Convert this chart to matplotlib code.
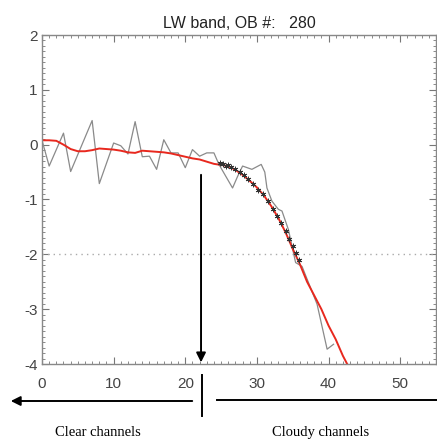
import numpy as np
import matplotlib
matplotlib.use("Agg")
import matplotlib.pyplot as plt
from matplotlib.patches import FancyArrowPatch
from matplotlib.ticker import MultipleLocator

plt.rcParams["font.family"] = "Liberation Sans"
plt.rcParams["axes.unicode_minus"] = False

# noisy observed residuals (gray line)
obs_x = [0, 1, 3, 4, 7, 8, 10, 11, 12, 13, 14, 15, 16, 17, 18, 19, 20, 21, 22, 23,
         24, 24.7, 26.6, 27.3, 28, 29.3, 30.6, 31.1, 31.4, 32.1, 33, 33.5, 34.4,
         35.4, 36.3, 38.4, 39.8, 40.7]
obs_y = [0.08, -0.39, 0.21, -0.49, 0.44, -0.71, 0.03, -0.02, -0.17, 0.42, -0.22,
         -0.21, -0.45, 0.09, -0.15, -0.15, -0.42, -0.09, -0.21, -0.15, -0.15, -0.36,
         -0.79, -0.58, -0.39, -0.45, -0.36, -0.5, -0.79, -1.03, -1.18, -1.21, -1.55,
         -2.15, -2.22, -2.91, -3.73, -3.64]

# smoothed fit (red line)
fit_x = [0, 1, 2, 3, 4, 5, 6, 7, 8, 9, 10, 11, 12, 13, 14, 15, 16, 17, 18, 19, 20,
         21, 22, 23, 24, 25, 26, 27, 28, 29, 30, 31, 32, 33, 34, 35, 36, 37, 38, 39,
         40, 41, 42, 42.6]
fit_y = [0.08, 0.08, 0.07, 0.0, -0.08, -0.12, -0.12, -0.1, -0.07, -0.08, -0.09,
         -0.11, -0.14, -0.15, -0.11, -0.12, -0.13, -0.14, -0.16, -0.19, -0.22,
         -0.25, -0.27, -0.31, -0.35, -0.37, -0.39, -0.46, -0.55, -0.66, -0.78,
         -0.93, -1.12, -1.34, -1.6, -1.9, -2.18, -2.5, -2.75, -3.0, -3.3, -3.55,
         -3.85, -4.0]

# cloudy channel samples (asterisks)
star_x = [24.8, 25.3, 25.7, 26.0, 26.4, 27.0, 27.6, 28.2, 28.8, 29.5, 30.2, 30.8,
          31.5, 32.2, 32.8, 33.4, 34.0, 34.5, 35.0, 35.5, 35.9]
star_y = [-0.34, -0.36, -0.38, -0.37, -0.40, -0.44, -0.50, -0.56, -0.63, -0.72,
          -0.82, -0.90, -1.02, -1.17, -1.30, -1.43, -1.58, -1.72, -1.84, -1.98, -2.1]

split_x = 22.2

W, H = 437, 444
fig = plt.figure(figsize=(W / 100, H / 100), dpi=100)
ax = fig.add_axes([42 / W, 1 - 364 / H, 394 / W, 329 / H])

ax.axhline(-2, color="#aaaaaa", linestyle=(0, (1, 3)), linewidth=1)
ax.plot(obs_x, obs_y, color="#8a8a8a", linewidth=0.9)
ax.plot(fit_x, fit_y, color="#e8281e", linewidth=1.4)
ax.plot(star_x, star_y, linestyle="none", marker=(6, 2, 0), markersize=4,
        color="#333333", markeredgewidth=0.6)

ax.set_xlim(0, 55)
ax.set_ylim(-4, 2)
ax.xaxis.set_major_locator(MultipleLocator(10))
ax.xaxis.set_minor_locator(MultipleLocator(1))
ax.yaxis.set_major_locator(MultipleLocator(1))
ax.yaxis.set_minor_locator(MultipleLocator(0.1))
ax.tick_params(which="both", direction="in", top=True, right=True,
               color="#777777", labelcolor="#444444", labelsize=11)
ax.tick_params(which="major", length=5)
ax.tick_params(which="minor", length=2.5)
ax.tick_params(axis="x", pad=9)
ax.tick_params(axis="y", pad=3)
for s in ax.spines.values():
    s.set_color("#888888")
    s.set_linewidth(1)

ax.set_title("LW band, OB #:   280", fontsize=11.5, color="#222222", pad=5)

# vertical arrow marking clear/cloudy split
ax.annotate("", xy=(split_x, -3.97), xytext=(split_x, -0.55),
            arrowprops=dict(arrowstyle="-|>", color="black", lw=1.4,
                            mutation_scale=14, shrinkA=0, shrinkB=0))

# annotations below the axes (figure pixel coords)
def fx(px):
    return px / W

def fy(py):
    return 1 - py / H

fig.add_artist(plt.Line2D([fx(202), fx(202)], [fy(375), fy(416)], color="black", lw=1.4))
fig.add_artist(FancyArrowPatch((fx(195), fy(401)), (fx(8), fy(401)),
                               transform=fig.transFigure, arrowstyle="-|>",
                               mutation_scale=14, color="black", lw=1.4))
fig.add_artist(plt.Line2D([fx(217), fx(437)], [fy(400), fy(400)], color="black", lw=1.4))

fig.text(fx(98), fy(432), "Clear channels", family="Liberation Serif",
         fontsize=10.5, ha="center", va="center")
fig.text(fx(321), fy(432), "Cloudy channels", family="Liberation Serif",
         fontsize=10.5, ha="center", va="center")

fig.savefig("out.png", dpi=100)
